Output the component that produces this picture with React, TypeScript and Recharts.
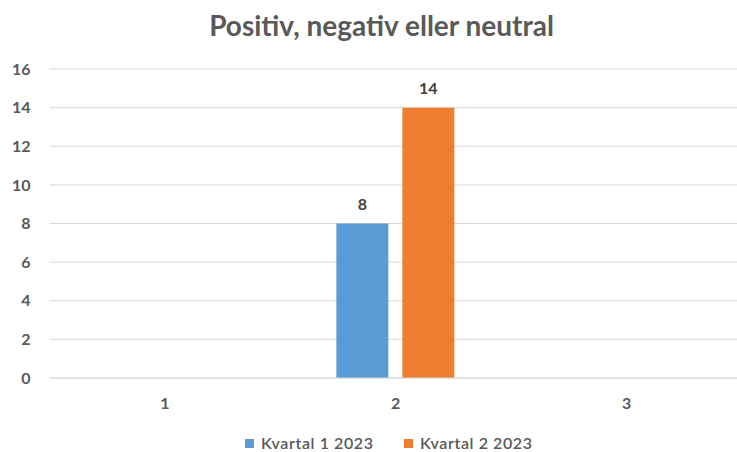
import React from "react";
import { BarChart, Bar, XAxis, YAxis, CartesianGrid, LabelList } from "recharts";

const categories = ["1", "2", "3"];
const kvartal1 = [null, 8, null];
const kvartal2 = [null, 14, null];
const yTicks = [0, 2, 4, 6, 8, 10, 12, 14, 16];

const SERIES = [
  { key: "k1", name: "Kvartal 1 2023", color: "#5B9BD5", left: 245 },
  { key: "k2", name: "Kvartal 2 2023", color: "#ED7D31", left: 404 },
];

const data = categories.map((c, i) => ({ cat: c, k1: kvartal1[i], k2: kvartal2[i] }));

const FONT = "Lato, 'Open Sans', sans-serif";
const TEXT = "#595959";

export default function App() {
  return (
    <div
      style={{
        position: "absolute",
        left: 0,
        top: 0,
        width: 737,
        height: 452,
        overflow: "hidden",
        background: "#fff",
        fontFamily: FONT,
      }}
    >
      <div
        style={{
          position: "absolute",
          top: 6,
          left: 26,
          width: 711,
          textAlign: "center",
          fontSize: 28,
          fontWeight: 700,
          color: TEXT,
          lineHeight: "38px",
        }}
      >
        Positiv, negativ eller neutral
      </div>
      <BarChart
        width={745}
        height={452}
        data={data}
        margin={{ top: 69, right: 3, left: 0, bottom: 44 }}
        barCategoryGap={56}
        barGap={14}
      >
        <CartesianGrid stroke="#d9d9d9" vertical={false} />
        <XAxis
          dataKey="cat"
          height={30}
          axisLine={{ stroke: "#d9d9d9" }}
          tickLine={false}
          tick={{ fontSize: 16, fontWeight: 700, fill: TEXT, fontFamily: FONT }}
          tickMargin={14}
        />
        <YAxis
          width={49.5}
          domain={[0, 16]}
          ticks={yTicks}
          axisLine={false}
          tickLine={false}
          tick={{ fontSize: 16, fontWeight: 700, fill: TEXT, fontFamily: FONT }}
          tickMargin={13}
        />
        {SERIES.map((s) => (
          <Bar key={s.key} dataKey={s.key} name={s.name} fill={s.color} isAnimationActive={false}>
            <LabelList
              dataKey={s.key}
              position="top"
              offset={14}
              style={{ fontSize: 16, fontWeight: 700, fill: "#404040", fontFamily: FONT }}
            />
          </Bar>
        ))}
      </BarChart>
      {SERIES.map((s) => (
        <div
          key={s.key}
          style={{
            position: "absolute",
            top: 432,
            left: s.left,
            display: "flex",
            alignItems: "center",
            gap: 7,
            fontSize: 16,
            letterSpacing: 0.6,
            color: TEXT,
            lineHeight: "22px",
          }}
        >
          <span style={{ width: 9, height: 9, background: s.color, display: "inline-block" }} />
          <span style={{ fontWeight: 600 }}>{s.name}</span>
        </div>
      ))}
    </div>
  );
}
